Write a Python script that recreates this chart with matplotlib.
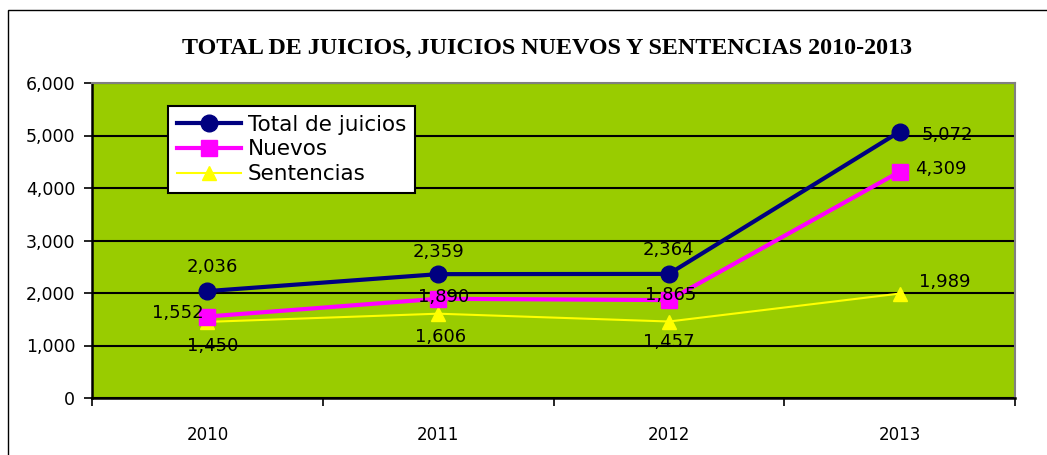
import matplotlib
matplotlib.use("Agg")
import matplotlib.pyplot as plt
from matplotlib.patches import Rectangle
from matplotlib.ticker import FuncFormatter, FixedLocator

years = ["2010", "2011", "2012", "2013"]
total = [2036, 2359, 2364, 5072]
nuevos = [1552, 1890, 1865, 4309]
sentencias = [1450, 1606, 1457, 1989]
title = "TOTAL DE JUICIOS, JUICIOS NUEVOS Y SENTENCIAS 2010-2013"

plt.rcParams['font.family'] = ['DejaVu Sans']

fig = plt.figure(figsize=(10.47, 4.55), dpi=100)
fig.patch.set_facecolor("white")
W, H = 1047, 455
ax = fig.add_axes([92 / W, 1 - 398 / H, (1015 - 92) / W, (398 - 83) / H])
ax.set_facecolor("#99CC00")

# outer chart border
fig.patches.append(Rectangle((8 / W, -0.2), 1.2, 1.2 - 10 / H, transform=fig.transFigure,
                             fill=False, edgecolor="black", linewidth=1.0, zorder=0))

x = list(range(len(years)))
ax.set_xlim(-0.5, len(years) - 0.5)
ax.set_ylim(0, 6000)
ax.yaxis.set_major_locator(FixedLocator([0, 1000, 2000, 3000, 4000, 5000, 6000]))
ax.yaxis.set_major_formatter(FuncFormatter(lambda v, p: f"{int(v):,}"))
ax.grid(axis="y", color="black", linewidth=1.5, zorder=1)
ax.set_axisbelow(True)

ax.set_xticks([i - 0.5 for i in range(len(years) + 1)])
ax.set_xticklabels([])
ax.set_xticks(x, minor=True)
ax.set_xticklabels(years, minor=True)
ax.tick_params(axis="x", which="major", direction="out", length=6, width=1.2, colors="black")
ax.tick_params(axis="x", which="minor", length=0, pad=20, labelsize=12)
ax.tick_params(axis="y", direction="out", length=6, width=1.2, labelsize=12.5, pad=6)

for s in ["left", "bottom"]:
    ax.spines[s].set_color("black")
    ax.spines[s].set_linewidth(1.8)
for s in ["top", "right"]:
    ax.spines[s].set_color("#808080")
    ax.spines[s].set_linewidth(1.5)

l1, = ax.plot(x, total, color="#000080", linewidth=3, marker="o", markersize=12,
              label="Total de juicios", zorder=4)
l2, = ax.plot(x, nuevos, color="#FF00FF", linewidth=3, marker="s", markersize=11,
              label="Nuevos", zorder=3)
l3, = ax.plot(x, sentencias, color="#FFFF00", linewidth=1.5, marker="^", markersize=10,
              label="Sentencias", zorder=2)

fs = 13
def lab(xi, yi, dx, dy, ha, va="center"):
    ax.annotate(f"{yi:,}", (xi, yi), xytext=(dx, dy), textcoords="offset pixels",
                ha=ha, va=va, fontsize=fs, color="black", zorder=6)

# Total
lab(0, total[0], 5, 24, "center")
lab(1, total[1], 0, 22, "center")
lab(2, total[2], 0, 24, "center")
lab(3, total[3], 22, -3, "left")
# Nuevos
lab(0, nuevos[0], -4, 4, "right")
lab(1, nuevos[1], 5, 2, "center")
lab(2, nuevos[2], 2, 5, "center")
lab(3, nuevos[3], 15, 3, "left")
# Sentencias
lab(0, sentencias[0], 5, -24, "center")
lab(1, sentencias[1], 2, -23, "center")
lab(2, sentencias[2], 0, -20, "center")
lab(3, sentencias[3], 19, 12, "left")

leg = ax.legend(handles=[l1, l2, l3], loc="upper left",
                bbox_to_anchor=((168 - 92) / (1015 - 92), 1 - (106 - 83) / (398 - 83)),
                frameon=True, fancybox=False, shadow=False, fontsize=15.5,
                handlelength=3.0, handletextpad=0.3, labelspacing=0.22,
                borderpad=0.4, borderaxespad=0, facecolor="white", edgecolor="black",
                framealpha=1)
leg.get_frame().set_linewidth(1.5)

fig.text(547 / W, 1 - 48 / H, title, ha="center", va="center",
         fontsize=17.3, fontweight="bold", family="Liberation Serif")

fig.savefig("out.png", dpi=100)
